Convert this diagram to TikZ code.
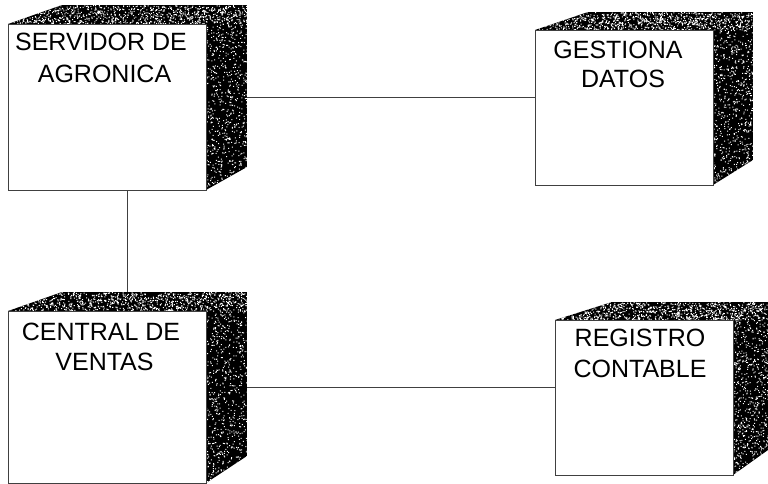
\documentclass[tikz,border=0pt]{standalone}
\usepackage{fontspec}
\setmainfont{Liberation Sans}
\tikzset{
  hull/.style={inner sep=0pt, outer sep=0pt, anchor=north west},
  frontface/.style={draw=black!75, line width=0.9pt, fill=white, inner sep=0pt, outer sep=0pt, anchor=north west},
  caption/.style={inner sep=0pt, outer sep=0pt, anchor=north, align=center, text=black, font=\fontsize{25}{30}\selectfont},
  link/.style={draw=black!75, line width=0.7pt},
  shade/.style={fill=black}
}
% #1 name, #2 #3 front top-left, #4 #5 front bottom-right, #6 back-left x, #7 back-right x, #8 back top y, #9 back bottom y
\newcommand{\nodecube}[9]{
  \node[hull, minimum width={(#7-#2)*1pt}, minimum height={(#5-#8)*1pt}] (#1) at (#2,#8) {};
  \begin{scope}
    \clip (#2,#3) -- (#6,#8) -- (#7,#8) -- (#7,#9) -- (#4,#5) -- cycle;
    \fill[shade] (#2,#8) rectangle (#7,#5);
    \fill[white] foreach \i in {1,...,1000} { ({#2+rnd*(#7-#2)},{#8+rnd*(#3-#8)}) rectangle ++(1,1) };
    \fill[white] foreach \i in {1,...,650} { ({#4+rnd*(#7-#4)},{#3+rnd*(#5-#3)}) rectangle ++(1,1) };
  \end{scope}
  \node[frontface, minimum width={(#4-#2)*1pt}, minimum height={(#5-#3)*1pt}] (#1front) at (#2,#3) {};
}
\begin{document}
\begin{tikzpicture}[x=1pt,y=-1pt]
\useasboundingbox (0,0) rectangle (768,484);
\fill[white] (0,0) rectangle (768,484);
\pgfmathsetseed{4711}
\nodecube{srv}{8}{24}{206}{190}{62}{247}{5}{167}
\nodecube{ges}{535}{30}{713}{185}{588}{753}{12}{160}
\nodecube{cen}{8}{311}{206}{483}{62}{247}{292}{456}
\nodecube{reg}{555}{320}{733}{475}{612}{768}{302}{450}
\node[caption] (srvtxt) at (101,33.5) {SERVIDOR DE\\[1.5pt]\hspace*{7pt}AGRONICA};
\node[caption] (gestxt) at (618,41) {GESTIONA\\[-1pt]\hspace*{10pt}DATOS};
\node[caption] (centxt) at (101,323) {CENTRAL DE\\[0pt]\hspace*{7pt}VENTAS};
\node[caption] (regtxt) at (640,329) {REGISTRO\\[1pt]CONTABLE};
\draw[link] (srv.east) -- (srv.east -| gesfront.west);
\draw[link] (cen.east) -- (cen.east -| regfront.west);
\draw[link] (srv.south) -- (cen.north);
\end{tikzpicture}
\end{document}
